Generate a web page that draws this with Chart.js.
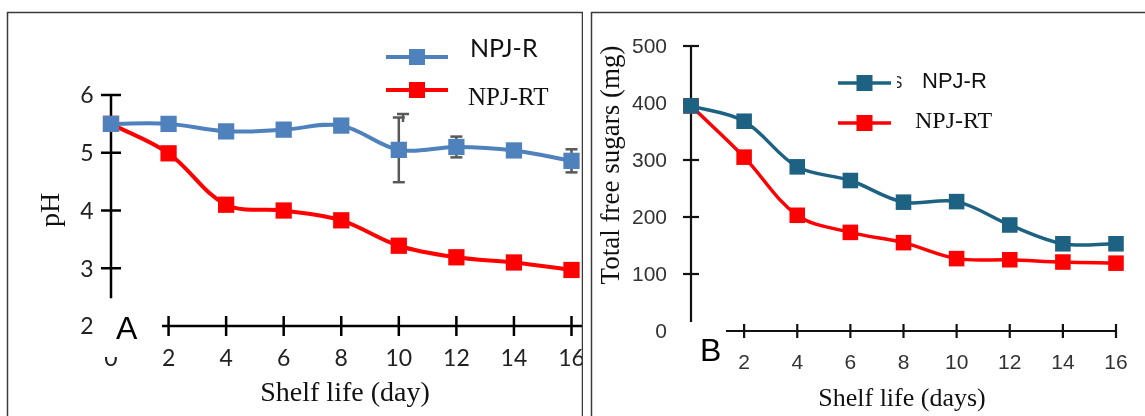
<!DOCTYPE html>
<html>
<head>
<meta charset="utf-8">
<script src="https://cdn.jsdelivr.net/npm/chart.js@4.4.1/dist/chart.umd.min.js"></script>
<style>
  html, body { margin:0; padding:0; background:#fff; }
  #wrap { position:relative; width:1145px; height:416px; overflow:hidden; }
  #chartA { position:absolute; left:0; top:0; }
  #chartB { position:absolute; left:590px; top:0; }
</style>
</head>
<body>
<div id="wrap">
  <canvas id="chartA" width="583" height="416"></canvas>
  <canvas id="chartB" width="555" height="416"></canvas>
</div>
<script>
// shelf life days
const days = [0, 2, 4, 6, 8, 10, 12, 14, 16];
const xTicks = [2, 4, 6, 8, 10, 12, 14, 16];

// panel A - pH
const phTicks = [6, 5, 4, 3, 2];
const phR = [5.5, 5.5, 5.37, 5.4, 5.47, 5.05, 5.1, 5.04, 4.86];
const phRT = [5.5, 4.99, 4.1, 4.0, 3.83, 3.39, 3.19, 3.1, 2.97];
const phErrR = [0, 0, 0, 0, 0, 0.56, 0.18, 0, 0.2];
const phErrRT = [0, 0, 0.1, 0, 0, 0, 0, 0, 0];

// panel B - total free sugars
const sugarTicks = [500, 400, 300, 200, 100, 0];
const sugarR = [395, 368, 288, 264, 226, 227, 186, 153, 153];
const sugarRT = [395, 305, 203, 173, 155, 127, 125, 121, 119];

const BLUE = '#4f81bd', TEAL = '#1d6282', RED = '#ff0000';
const CAL = 'Lato, "Open Sans", sans-serif';
const SERIF = '"Liberation Serif", "DejaVu Serif", serif';
const SANS = '"Liberation Sans", Arial, sans-serif';

function seg(ctx, x1, y1, x2, y2) {
  ctx.beginPath(); ctx.moveTo(x1, y1); ctx.lineTo(x2, y2); ctx.stroke();
}
function txt(ctx, s, x, y, font, color, align) {
  ctx.font = font; ctx.fillStyle = color;
  ctx.textAlign = align || 'center'; ctx.textBaseline = 'middle';
  ctx.fillText(s, x, y);
}
function legendItem(ctx, x1, x2, y, color, lw, box) {
  ctx.strokeStyle = color; ctx.lineWidth = lw;
  seg(ctx, x1, y, x2, y);
  ctx.fillStyle = color;
  const cx = (x1 + x2) / 2;
  ctx.fillRect(cx - box / 2, y - box / 2, box, box);
}

function series(label, data, color, lw, r) {
  return {
    label: label,
    data: days.map((d, i) => ({ x: d, y: data[i] })),
    borderColor: color,
    backgroundColor: color,
    borderWidth: lw,
    pointStyle: 'rect',
    pointRadius: r,
    pointHoverRadius: r,
    pointBorderWidth: 0,
    tension: 0.35,
    clip: false
  };
}

const baseOptions = (pad, ymin, ymax) => ({
  responsive: false,
  animation: false,
  layout: { padding: pad },
  plugins: { legend: { display: false }, tooltip: { enabled: false } },
  scales: {
    x: { type: 'linear', min: 0, max: 16, display: false },
    y: { type: 'linear', min: ymin, max: ymax, display: false }
  }
});

// ---- panel A ----
const panelA = {
  id: 'panelA',
  beforeDatasetsDraw(chart) {
    const { ctx, scales: { x, y } } = chart;
    ctx.save();
    ctx.strokeStyle = '#000';
    ctx.lineWidth = 2.5;
    const x0 = x.getPixelForValue(0);
    seg(ctx, x0, y.getPixelForValue(6), x0, y.getPixelForValue(2.48));
    phTicks.slice(0, 4).forEach(v => {
      const py = y.getPixelForValue(v);
      seg(ctx, x0 - 10, py, x0 + 10, py);
    });
    const yb = y.getPixelForValue(2);
    seg(ctx, 162, yb, chart.width, yb);
    xTicks.forEach(v => {
      const px = x.getPixelForValue(v);
      seg(ctx, px, yb - 10, px, yb + 10);
    });
    // error bars
    ctx.strokeStyle = '#595959';
    [[phR, phErrR], [phRT, phErrRT]].forEach(([vals, errs]) => {
      errs.forEach((e, i) => {
        if (!e) return;
        const px = x.getPixelForValue(days[i]);
        const top = y.getPixelForValue(vals[i] + e), bot = y.getPixelForValue(vals[i] - e);
        seg(ctx, px, top, px, bot);
        seg(ctx, px - 6, top, px + 6, top);
        seg(ctx, px - 6, bot, px + 6, bot);
      });
    });
    ctx.restore();
  },
  afterDraw(chart) {
    const { ctx, scales: { x, y } } = chart;
    ctx.save();
    const x0 = x.getPixelForValue(0);
    phTicks.forEach(v => txt(ctx, String(v), x0 - 24, y.getPixelForValue(v) + 1, '23px ' + CAL, '#222'));
    xTicks.forEach(v => txt(ctx, String(v), x.getPixelForValue(v), 359, '23px ' + CAL, '#222'));
    // partly hidden 0 label
    ctx.save();
    ctx.beginPath(); ctx.rect(x0 - 12, 357, 24, 12); ctx.clip();
    txt(ctx, '0', x0, 359, '23px ' + CAL, '#222');
    ctx.restore();
    txt(ctx, 'A', 116, 330, '32px ' + SANS, '#000', 'left');
    txt(ctx, 'Shelf life (day)', 345, 394, '28px ' + SERIF, '#111');
    ctx.save();
    ctx.translate(52, 210); ctx.rotate(-Math.PI / 2);
    txt(ctx, 'pH', 0, 0, '28px ' + SERIF, '#111');
    ctx.restore();
    // legend
    legendItem(ctx, 386, 448, 57, BLUE, 4, 16);
    legendItem(ctx, 386, 448, 90, RED, 4, 16);
    txt(ctx, 'NPJ-R', 470, 49, '25px ' + CAL, '#111', 'left');
    txt(ctx, 'NPJ-RT', 468, 98, '25px ' + SERIF, '#111', 'left');
    ctx.strokeStyle = '#595959'; ctx.lineWidth = 2.5;
    seg(ctx, 397, 114, 409, 114); seg(ctx, 403, 114, 403, 122);
    // panel frame
    ctx.strokeStyle = '#3a3a3a'; ctx.lineWidth = 1.5;
    ctx.beginPath();
    ctx.moveTo(7.5, 416); ctx.lineTo(7.5, 12.5); ctx.lineTo(582.5, 12.5); ctx.lineTo(582.5, 416);
    ctx.stroke();
    ctx.restore();
  }
};

new Chart(document.getElementById('chartA'), {
  type: 'line',
  data: {
    datasets: [
      series('NPJ-R', phR, BLUE, 4, 11.5),
      series('NPJ-RT', phRT, RED, 4, 11.5)
    ]
  },
  options: baseOptions({ left: 111, right: 3, top: 95, bottom: 90 }, 2, 6),
  plugins: [panelA]
});

// ---- panel B ----
const panelB = {
  id: 'panelB',
  beforeDatasetsDraw(chart) {
    const { ctx, scales: { x, y } } = chart;
    ctx.save();
    ctx.strokeStyle = '#111';
    ctx.lineWidth = 2.2;
    const x0 = x.getPixelForValue(0);
    seg(ctx, x0, y.getPixelForValue(500), x0, y.getPixelForValue(16));
    sugarTicks.slice(0, 5).forEach(v => {
      const py = y.getPixelForValue(v);
      seg(ctx, x0 - 8, py, x0 + 8, py);
    });
    const yb = y.getPixelForValue(0);
    seg(ctx, 136, yb, x.getPixelForValue(16), yb);
    xTicks.forEach(v => {
      const px = x.getPixelForValue(v);
      seg(ctx, px, yb - 7, px, yb + 7);
    });
    ctx.restore();
  },
  afterDraw(chart) {
    const { ctx, scales: { x, y } } = chart;
    ctx.save();
    sugarTicks.forEach(v => txt(ctx, String(v), 77, y.getPixelForValue(v) + 1, '21px ' + SANS, '#333', 'right'));
    xTicks.forEach(v => txt(ctx, String(v), x.getPixelForValue(v), 363, '21px ' + SANS, '#333'));
    txt(ctx, 'B', 110, 352, '32px ' + SANS, '#000', 'left');
    txt(ctx, 'Shelf life (days)', 312, 399, '26px ' + SERIF, '#111');
    ctx.save();
    ctx.translate(22, 165); ctx.rotate(-Math.PI / 2);
    txt(ctx, 'Total free sugars (mg)', 0, 0, '27px ' + SERIF, '#111');
    ctx.restore();
    // legend
    legendItem(ctx, 248, 301, 83, TEAL, 3.5, 16);
    legendItem(ctx, 248, 301, 123, RED, 3.5, 16);
    ctx.save();
    ctx.beginPath(); ctx.rect(307, 70, 10, 25); ctx.clip();
    txt(ctx, 'S', 307, 84, '16px ' + SANS, '#222');
    ctx.restore();
    txt(ctx, 'NPJ-R', 332, 82, '22px ' + SANS, '#111', 'left');
    txt(ctx, 'NPJ-RT', 325, 122, '24px ' + SERIF, '#111', 'left');
    // panel frame
    ctx.strokeStyle = '#3a3a3a'; ctx.lineWidth = 1.5;
    ctx.beginPath();
    ctx.moveTo(1.5, 416); ctx.lineTo(1.5, 12.5); ctx.lineTo(555, 12.5);
    ctx.stroke();
    ctx.restore();
  }
};

new Chart(document.getElementById('chartB'), {
  type: 'line',
  data: {
    datasets: [
      series('NPJ-R', sugarR, TEAL, 3.5, 11),
      series('NPJ-RT', sugarRT, RED, 3.5, 11)
    ]
  },
  options: baseOptions({ left: 101, right: 29, top: 46, bottom: 85 }, 0, 500),
  plugins: [panelB]
});
</script>
</body>
</html>
